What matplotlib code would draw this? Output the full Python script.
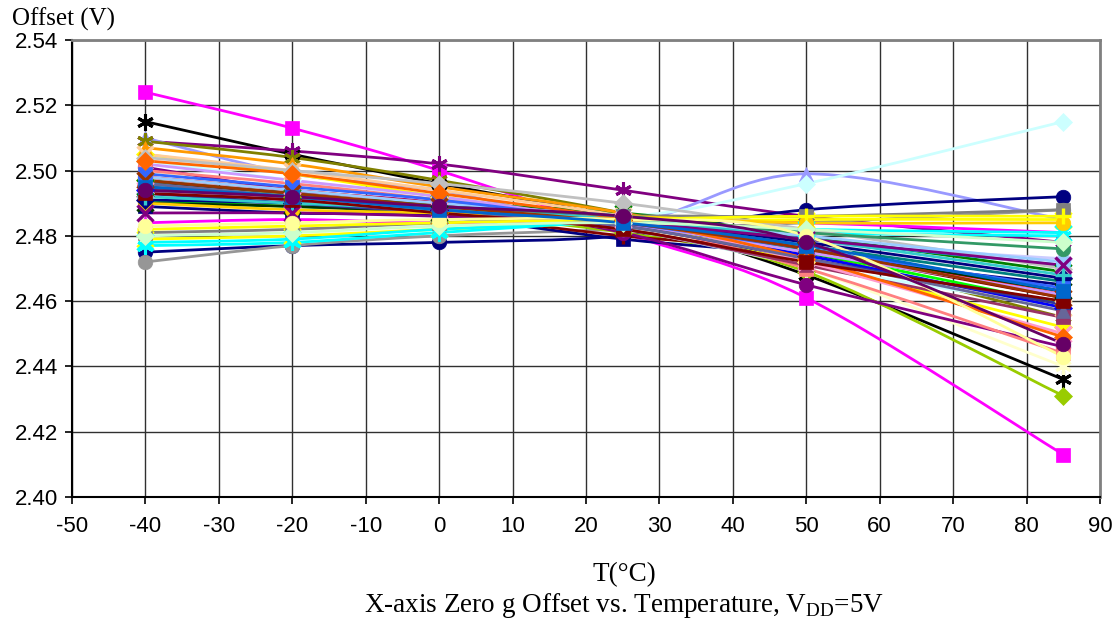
import numpy as np
import matplotlib
matplotlib.use("Agg")
import matplotlib.pyplot as plt
from matplotlib.path import Path
from matplotlib.patches import PathPatch

plt.rcParams['mathtext.fontset'] = 'custom'
plt.rcParams['mathtext.rm'] = 'Liberation Serif'
plt.rcParams['axes.unicode_minus'] = False

# Temperatures (deg C) at which the offset was measured
temps = [-40, -20, 0, 25, 50, 85]

# Offset (V) of each device, one row per series
offsets = [
    [2.524, 2.513, 2.500, 2.481, 2.461, 2.413],
    [2.515, 2.505, 2.496, 2.485, 2.468, 2.436],
    [2.509, 2.506, 2.502, 2.494, 2.486, 2.478],
    [2.510, 2.499, 2.494, 2.484, 2.499, 2.485],
    [2.503, 2.497, 2.492, 2.486, 2.496, 2.515],
    [2.475, 2.477, 2.478, 2.480, 2.488, 2.492],
    [2.472, 2.477, 2.480, 2.482, 2.484, 2.488],
    [2.509, 2.504, 2.497, 2.487, 2.475, 2.455],
    [2.497, 2.492, 2.487, 2.481, 2.469, 2.431],
    [2.500, 2.494, 2.489, 2.483, 2.470, 2.440],
    [2.489, 2.487, 2.486, 2.479, 2.474, 2.465],
    [2.496, 2.493, 2.487, 2.480, 2.475, 2.461],
    [2.501, 2.494, 2.490, 2.481, 2.465, 2.446],
    [2.484, 2.485, 2.484, 2.485, 2.484, 2.481],
    [2.479, 2.480, 2.482, 2.484, 2.485, 2.485],
    [2.478, 2.479, 2.482, 2.484, 2.482, 2.481],
    [2.477, 2.478, 2.481, 2.484, 2.481, 2.480],
    [2.505, 2.499, 2.492, 2.484, 2.472, 2.452],
    [2.493, 2.491, 2.488, 2.484, 2.478, 2.473],
    [2.495, 2.492, 2.490, 2.487, 2.480, 2.469],
    [2.492, 2.490, 2.487, 2.482, 2.471, 2.458],
    [2.507, 2.502, 2.495, 2.487, 2.476, 2.463],
    [2.505, 2.500, 2.494, 2.486, 2.474, 2.458],
    [2.500, 2.496, 2.491, 2.484, 2.470, 2.444],
    [2.498, 2.494, 2.490, 2.485, 2.476, 2.462],
    [2.497, 2.493, 2.489, 2.485, 2.477, 2.466],
    [2.494, 2.491, 2.488, 2.484, 2.474, 2.458],
    [2.496, 2.492, 2.489, 2.486, 2.479, 2.471],
    [2.491, 2.489, 2.488, 2.485, 2.475, 2.459],
    [2.504, 2.500, 2.496, 2.490, 2.482, 2.470],
    [2.481, 2.482, 2.484, 2.486, 2.486, 2.488],
    [2.490, 2.489, 2.487, 2.484, 2.476, 2.463],
    [2.493, 2.490, 2.487, 2.483, 2.473, 2.459],
    [2.495, 2.491, 2.487, 2.482, 2.471, 2.455],
    [2.490, 2.488, 2.487, 2.486, 2.484, 2.484],
    [2.491, 2.490, 2.488, 2.485, 2.478, 2.467],
    [2.498, 2.494, 2.490, 2.486, 2.480, 2.472],
    [2.494, 2.491, 2.488, 2.485, 2.472, 2.450],
    [2.502, 2.497, 2.492, 2.484, 2.475, 2.462],
    [2.499, 2.495, 2.491, 2.484, 2.476, 2.464],
    [2.492, 2.490, 2.488, 2.485, 2.479, 2.468],
    [2.503, 2.499, 2.493, 2.485, 2.473, 2.449],
    [2.496, 2.492, 2.488, 2.483, 2.473, 2.457],
    [2.494, 2.492, 2.489, 2.486, 2.481, 2.476],
    [2.497, 2.493, 2.489, 2.484, 2.476, 2.461],
    [2.487, 2.487, 2.486, 2.484, 2.479, 2.471],
    [2.493, 2.491, 2.487, 2.482, 2.472, 2.460],
    [2.482, 2.483, 2.484, 2.485, 2.486, 2.486],
    [2.480, 2.481, 2.483, 2.484, 2.482, 2.478],
    [2.483, 2.484, 2.485, 2.485, 2.480, 2.443],
    [2.495, 2.492, 2.488, 2.484, 2.477, 2.463],
    [2.494, 2.492, 2.489, 2.486, 2.478, 2.447],
]

colors = [
    '#FF00FF', '#000000', '#800080', '#9999FF', '#CCFFFF', '#000080',
    '#969696', '#808000', '#99CC00', '#FFFFCC', '#000080', '#800000',
    '#800080', '#FF00FF', '#FFFF00', '#00FFFF', '#00FFFF', '#FFFF00',
    '#CCCCFF', '#008000', '#CCFFFF', '#FF9900', '#FFCC99', '#FF8080',
    '#FF0000', '#008080', '#0000FF', '#00CCFF', '#00FF00', '#C0C0C0',
    '#808080', '#003300', '#333399', '#993366', '#FFCC00', '#000080',
    '#99CCFF', '#FF99CC', '#CC99FF', '#3366FF', '#33CCCC', '#FF6600',
    '#666699', '#339966', '#993300', '#800080', '#800000', '#FFFF00',
    '#CCFFCC', '#FFFF99', '#0066CC', '#660066',
]

markers = [
    's', '*', '*', '^', 'D', 'o',
    'o', '*', 'D', '*', 's', '+',
    'o', '^', 'x', 'x', '*', 'D',
    'D', 'x', 'o', '^', 'x', 's',
    'o', '^', 'D', 's', '^', 'D',
    's', 'x', '^', 's', 'o', 'D',
    'o', 'x', '^', 's', '+', 'D',
    '^', 'o', 'x', 'x', 's', '+',
    'D', 'o', 's', 'o',
]


def smooth_path(xs, ys):
    # Excel-like smoothed line: cubic Bezier through the points
    pts = np.column_stack([xs, ys]).astype(float)
    n = len(pts)
    verts = [pts[0]]
    codes = [Path.MOVETO]
    for i in range(n - 1):
        p0 = pts[max(i - 1, 0)]
        p1 = pts[i]
        p2 = pts[i + 1]
        p3 = pts[min(i + 2, n - 1)]
        c1 = p1 + (p2 - p0) / 6.0
        c2 = p2 - (p3 - p1) / 6.0
        verts += [c1, c2, p2]
        codes += [Path.CURVE4] * 3
    return Path(verts, codes)


fig = plt.figure(figsize=(11.2, 6.28), dpi=100)
ax = fig.add_axes([72 / 1120, 1 - 497 / 628, 1028 / 1120, 457 / 628])

for vals, col in zip(offsets, colors):
    patch = PathPatch(smooth_path(temps, vals), facecolor='none',
                      edgecolor=col, lw=2, zorder=2)
    ax.add_patch(patch)

for vals, col, mk in zip(offsets, colors, markers):
    if mk == '*':
        ax.plot(temps, vals, ls='none', marker=(6, 2, 0), ms=12,
                mec=col, mew=2.2, zorder=3)
    elif mk in ('x', '+'):
        ax.plot(temps, vals, ls='none', marker=mk, ms=11,
                mec=col, mew=2.4, zorder=3)
    else:
        size = 10.5 if mk != 'D' else 9
        ax.plot(temps, vals, ls='none', marker=mk, ms=size,
                mfc=col, mec=col, mew=0.5, zorder=3)

ax.set_xlim(-50, 90)
ax.set_ylim(2.40, 2.54)
ax.set_xticks(np.arange(-50, 91, 10))
ax.set_yticks(np.arange(2.40, 2.541, 0.02))
ax.set_yticklabels([f'{v:.2f}' for v in np.arange(2.40, 2.541, 0.02)])
ax.grid(True, color='#303030', lw=1)
ax.set_axisbelow(True)

for lab in ax.get_xticklabels() + ax.get_yticklabels():
    lab.set_fontfamily('Liberation Sans')
    lab.set_fontsize(16)
ax.tick_params(axis='both', direction='out', length=5, width=1.2,
               color='black')
ax.tick_params(axis='x', pad=9)
ax.tick_params(axis='y', pad=5)

ax.spines['left'].set_color('black')
ax.spines['left'].set_linewidth(1.5)
ax.spines['bottom'].set_color('black')
ax.spines['bottom'].set_linewidth(1.5)
ax.spines['top'].set_color('#808080')
ax.spines['top'].set_linewidth(2)
ax.spines['right'].set_color('#808080')
ax.spines['right'].set_linewidth(2)

fig.text(12 / 1120, 1 - 26 / 628, 'Offset (V)', fontfamily='Liberation Serif',
         fontsize=18, va='baseline', ha='left')
fig.text(624 / 1120, 1 - 581 / 628, 'T(°C)', fontfamily='Liberation Serif',
         fontsize=19.5, va='baseline', ha='center')
fig.text(624 / 1120, 1 - 612 / 628,
         r'X-axis Zero g Offset vs. Temperature, V$_{\mathrm{DD}}$=5V',
         fontfamily='Liberation Serif', fontsize=19.5, va='baseline', ha='center')

fig.savefig('out.png', dpi=100)
